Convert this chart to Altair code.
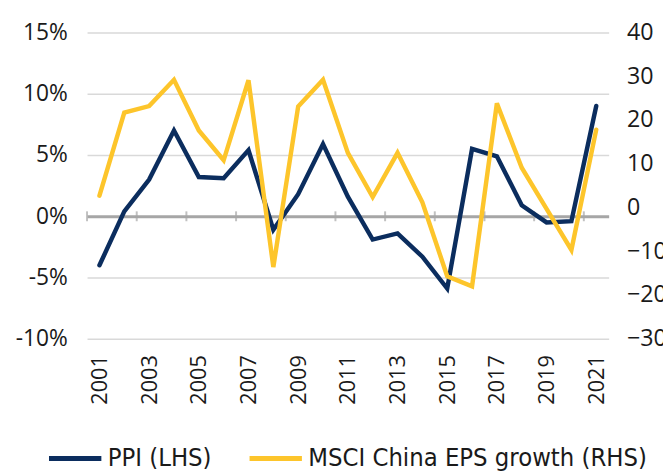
import altair as alt
import pandas as pd

years = list(range(2001, 2022))
ppi = [-4.0, 0.4, 3.0, 7.0, 3.2, 3.1, 5.4, -1.1, 1.8, 5.9, 1.6, -1.9, -1.4, -3.3,
       -5.9, 5.5, 4.9, 0.9, -0.5, -0.4, 9.0]
eps = [2.7, 21.7, 23.2, 29.2, 17.6, 10.8, 29.1, -13.6, 23.1, 29.2, 12.5, 2.4, 12.5,
       1.2, -15.7, -18.0, 23.8, 9.1, -0.3, -9.7, 17.8]
series_names = ["PPI (LHS)", "MSCI China EPS growth (RHS)"]
series_colors = ["#0b2d5e", "#fdc52b"]
label_years = list(range(2001, 2022, 2))
left_ticks = [-10, -5, 0, 5, 10, 15]
right_ticks = [-30, -20, -10, 0, 10, 20, 30, 40]

df = pd.DataFrame({"year": years, "ppi": ppi, "eps": eps})
tick_df = pd.DataFrame({"year": label_years})

W, H = 528, 310
AX_FONT = "Open Sans"
LEG_FONT = "DejaVu Sans Condensed, Liberation Sans Narrow, Roboto"

xscale = alt.Scale(domain=[2000.5, 2021.5], nice=False, zero=False)
yleft = alt.Scale(domain=[-10, 15], nice=False)
color_scale = alt.Scale(domain=series_names, range=series_colors)

x_axis = alt.Axis(orient="bottom", values=label_years, format="d",
                  labelAngle=270, domain=False, ticks=False, grid=False,
                  labelPadding=16, labelFontSize=22, labelFont=AX_FONT,
                  labelColor="#1a1a1a", title=None)

# small vertical ticks crossing the zero line at band boundaries (every 2 years)
zero_ticks = alt.Chart(tick_df).transform_calculate(
    edge="datum.year - 0.5"
).mark_tick(orient="vertical", size=10, thickness=2, color="#a6a6a6").encode(
    x=alt.X("edge:Q", scale=xscale, axis=x_axis),
    y=alt.Y(datum=0, scale=yleft),
)

ppi_line = alt.Chart(df).transform_calculate(
    series="'" + series_names[0] + "'"
).mark_line(strokeWidth=4.5, strokeCap="round").encode(
    x=alt.X("year:Q", scale=xscale, axis=x_axis),
    y=alt.Y("ppi:Q", scale=yleft,
            axis=alt.Axis(orient="left", values=left_ticks,
                          labelExpr="datum.value + '%'", domain=False, ticks=False,
                          grid=True,
                          gridColor={"condition": {"test": "datum.value === 0", "value": "#a6a6a6"},
                                     "value": "#d9d9d9"},
                          gridWidth={"condition": {"test": "datum.value === 0", "value": 3},
                                     "value": 1.5},
                          labelPadding=20, labelFontSize=23, labelFont=AX_FONT,
                          labelColor="#1a1a1a", title=None)),
    color=alt.Color("series:N", scale=color_scale,
                    legend=alt.Legend(orient="none", direction="horizontal",
                                      legendX=-41, legendY=402, title=None,
                                      symbolType="stroke", symbolSize=2809,
                                      symbolStrokeWidth=5, labelFont=LEG_FONT,
                                      labelFontSize=25.7, labelColor="#1a1a1a",
                                      labelOffset=4, columnPadding=28, padding=0,
                                      labelLimit=500)),
)

left = alt.layer(zero_ticks, ppi_line)

eps_line = alt.Chart(df).transform_calculate(
    series="'" + series_names[1] + "'"
).mark_line(strokeWidth=4.5, strokeCap="round").encode(
    x=alt.X("year:Q", scale=xscale, axis=x_axis),
    y=alt.Y("eps:Q", scale=alt.Scale(domain=[-30, 40], nice=False),
            axis=alt.Axis(orient="right", values=right_ticks, domain=False,
                          ticks=False, grid=False, labelPadding=18,
                          labelFontSize=23.5, labelFont=AX_FONT,
                          labelColor="#1a1a1a", title=None)),
    color=alt.Color("series:N", scale=color_scale),
)

chart = alt.layer(left, eps_line).resolve_scale(
    y="independent"
).properties(
    width=W, height=H,
    background="white",
    autosize=alt.AutoSizeParams(type="none"),
    padding={"left": 80, "top": 22, "right": 55, "bottom": 132},
).configure_view(stroke="transparent", strokeWidth=0)

chart.save("out.html", embed_options={"renderer": "svg", "actions": False})
